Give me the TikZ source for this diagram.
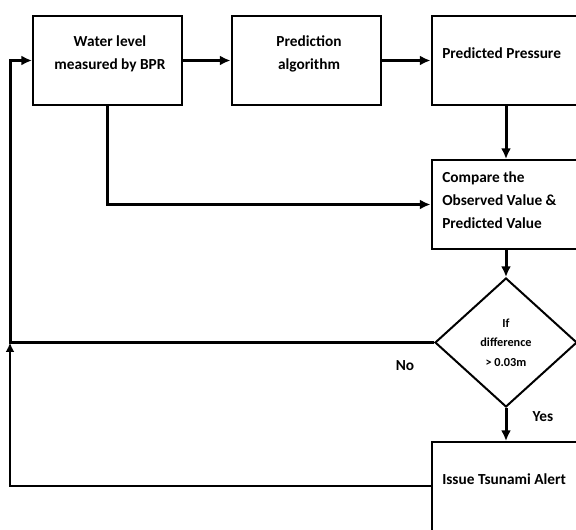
\documentclass[tikz,border=0pt]{standalone}
\usepackage{fontspec}
\setmainfont{Carlito}
\usetikzlibrary{shapes.geometric,arrows.meta}
\begin{document}
\begin{tikzpicture}[x=0.75pt,y=-0.75pt]
    \tikzset{
        block/.style={draw, line width=1.5pt, minimum width=111.75pt, minimum height=66.75pt, inner sep=0pt},
        txt/.style={font=\bfseries\fontsize{11.5}{17.25}\selectfont, inner sep=0pt},
        decision/.style={draw, diamond, line width=1.5pt, minimum width=106.5pt, minimum height=96.75pt, inner sep=0pt, align=center, font=\bfseries\fontsize{9.2}{14.6}\selectfont},
        arc/.style={line width=2.25pt, -{Latex[length=8pt,width=7.5pt]}},
        back/.style={line width=1.5pt, -{Latex[length=7pt,width=6.5pt]}}
    }
    \clip (0,0) rectangle (576,530);

    % boxes
    \node[block] (bpr) at (107.5,60.5) {};
    \node[block] (algo) at (306,60.5) {};
    \node[block] (pres) at (506,60.5) {};
    \node[block] (comp) at (506,204.5) {};
    \node[decision] (check) at (506,342.5) {If\\difference\\> 0.03m};
    \node[block] (alert) at (506,486.5) {};

    % texts
    \node[txt, align=center] (bprtext) at (110,53.5) {Water level\\measured by BPR};
    \node[txt, align=center] (algotext) at (309,53.5) {Prediction\\algorithm};
    \node[txt, anchor=west] (prestext) at (442,53) {Predicted Pressure};
    \node[txt, align=left, anchor=west] (comptext) at (442,200) {Compare the\\Observed Value \&\\Predicted Value};
    \node[txt, anchor=west] (alerttext) at (442,479) {Issue Tsunami Alert};
    \node[txt] (no) at (405,366) {No};
    \node[txt] (yes) at (543,417) {Yes};

    \coordinate (nocorner) at (10,342.5);

    % connectors
    \draw[arc] (bpr) -- (algo);
    \draw[arc] (algo) -- (pres);
    \draw[arc] (pres) -- (comp);
    \draw[arc] (bpr.south) |- (comp.west);
    \draw[arc] (comp) -- (check);
    \draw[arc] (check) -- (alert);
    \draw[arc] (check.west) -- (nocorner) |- (bpr.west);
    \draw[back] (alert.west) -| (nocorner);
\end{tikzpicture}
\end{document}
